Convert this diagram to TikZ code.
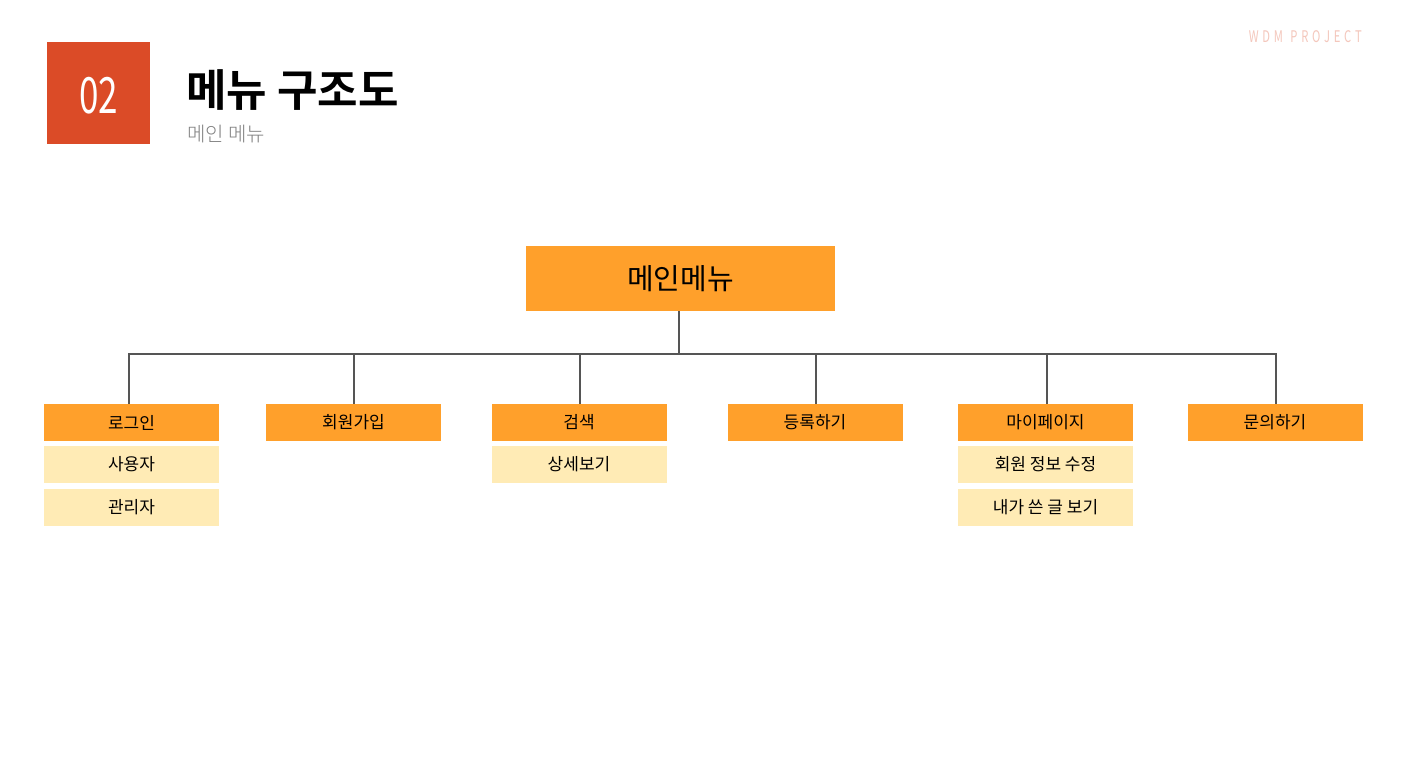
\documentclass[tikz,border=0pt]{standalone}
\usepackage{fontspec}
\setmainfont{Noto Sans CJK KR}
\newfontfamily\kb{Noto Sans CJK KR Bold}
\newfontfamily\kl{Noto Sans CJK KR Light}
\definecolor{org}{HTML}{FFA02B}
\definecolor{pale}{HTML}{FFEBB5}
\definecolor{red2}{HTML}{DB4B27}
\definecolor{ln}{HTML}{555555}
\definecolor{pk}{HTML}{F4C7BC}
\begin{document}
\begin{tikzpicture}[x=1pt,y=-1pt,
  cat/.style={fill=org,minimum width=175pt,minimum height=37pt,inner sep=0pt,font=\fontsize{17}{17}\selectfont},
  sub/.style={fill=pale,minimum width=175pt,minimum height=37pt,inner sep=0pt,font=\fontsize{17}{17}\selectfont},
  conn/.style={draw=ln,line width=1.5pt}]
\useasboundingbox (0,0) rectangle (1412,759);
\fill[white] (0,0) rectangle (1412,759);
\node[fill=red2,minimum width=103pt,minimum height=102pt,inner sep=0pt] (num) at (98.5,93) {};
\node[text=white] (numt) at (98.5,96) {\scalebox{0.7}[1]{\fontsize{50}{50}\selectfont 02}};
\node[anchor=west,inner sep=0pt] (title) at (186,90) {\kb\fontsize{44}{44}\selectfont 메뉴 구조도};
\node[anchor=west,inner sep=0pt,text=gray] (subt) at (187,134) {\kl\fontsize{20}{20}\selectfont 메인 메뉴};
\node[anchor=east,inner sep=0pt,text=pk] (wdm) at (1362,37) {\scalebox{0.7}[1]{\fontsize{16}{16}\selectfont W\,\,D\,\,M\,\,\,\,P\,\,R\,\,O\,\,J\,\,E\,\,C\,\,T}};
\node[fill=org,minimum width=309pt,minimum height=65pt,inner sep=0pt,font=\fontsize{29}{29}\selectfont] (main) at (680.5,278.5) {메인메뉴};
\node[cat] (c1) at (131.5,422.5) {로그인};
\node[cat] (c2) at (353.5,422.5) {회원가입};
\node[cat] (c3) at (579,422.5) {검색};
\node[cat] (c4) at (815,422.5) {등록하기};
\node[cat] (c5) at (1045.5,422.5) {마이페이지};
\node[cat] (c6) at (1275,422.5) {문의하기};
\node[sub] (s11) at (131.5,464.5) {사용자};
\node[sub] (s12) at (131.5,507.5) {관리자};
\node[sub] (s31) at (579,464.5) {상세보기};
\node[sub] (s51) at (1045.5,464.5) {회원 정보 수정};
\node[sub] (s52) at (1045.5,507.5) {내가 쓴 글 보기};
\coordinate (j) at (679,354);
\draw[conn] (main.south -| j) -- (j);
\draw[conn] (c1.north -| 129,0) |- (j);
\draw[conn] (c6.north -| 1276,0) |- (j);
\draw[conn] (c2.north -| 354,0) -- (354,354);
\draw[conn] (c3.north -| 580,0) -- (580,354);
\draw[conn] (c4.north -| 816,0) -- (816,354);
\draw[conn] (c5.north -| 1047,0) -- (1047,354);
\end{tikzpicture}
\end{document}
